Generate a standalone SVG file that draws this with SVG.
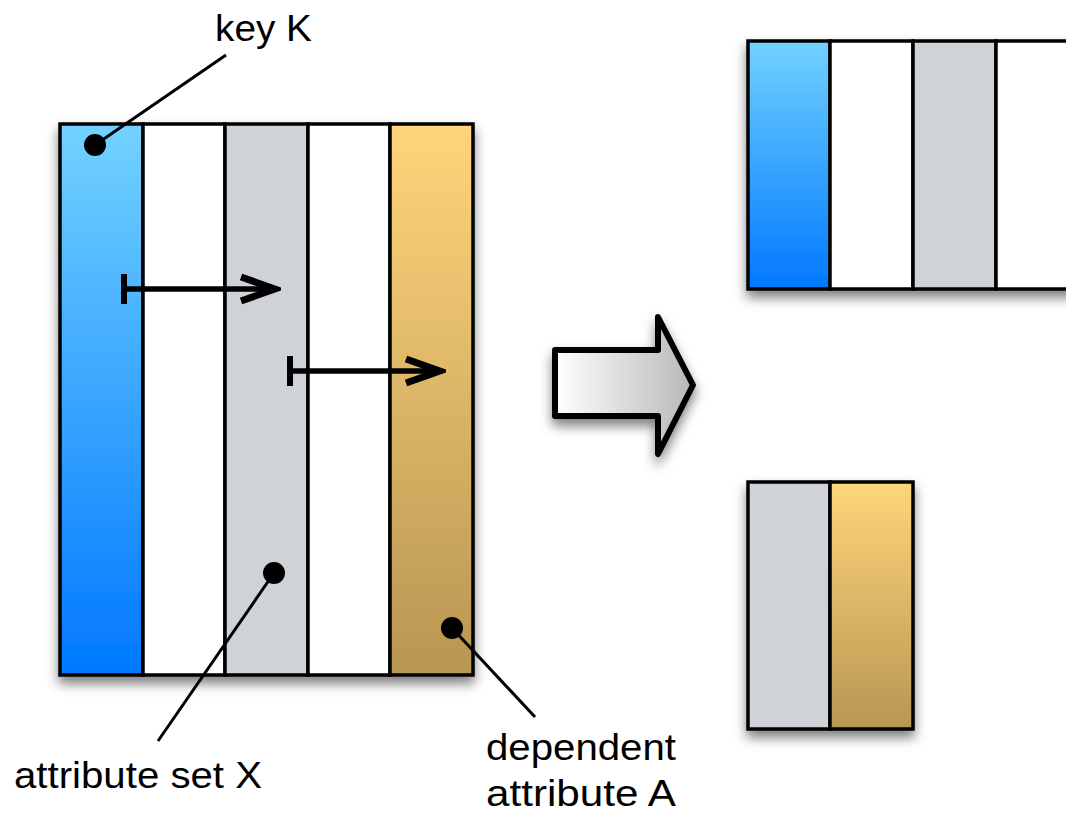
<svg xmlns="http://www.w3.org/2000/svg" width="1066" height="813" viewBox="0 0 1066 813">
<defs>
<linearGradient id="gBlue" x1="0" y1="0" x2="0" y2="1"><stop offset="0" stop-color="#72d2ff"/><stop offset="1" stop-color="#0078ff"/></linearGradient>
<linearGradient id="gGold" x1="0" y1="0" x2="0" y2="1"><stop offset="0" stop-color="#ffd57a"/><stop offset="1" stop-color="#b89653"/></linearGradient>
<linearGradient id="gArrow" x1="0" y1="0" x2="1" y2="0"><stop offset="0" stop-color="#ffffff"/><stop offset="1" stop-color="#b8b8b8"/></linearGradient>
<filter id="sh" x="-20%" y="-20%" width="140%" height="140%"><feDropShadow dx="0" dy="7" stdDeviation="6" flood-color="#000" flood-opacity="0.5"/></filter>
<marker id="ah" viewBox="0 0 44 32" refX="40" refY="16" markerWidth="44" markerHeight="32" markerUnits="userSpaceOnUse" orient="auto"><path d="M4,4 L38,16 L4,28" fill="none" stroke="#000" stroke-width="7"/></marker>
<marker id="tee" viewBox="0 0 8 32" refX="4" refY="16" markerWidth="8" markerHeight="32" markerUnits="userSpaceOnUse" orient="auto"><line x1="4" y1="1" x2="4" y2="31" stroke="#000" stroke-width="6"/></marker>
</defs>
<style>
.b{stroke:#000;stroke-width:3.5}
.t{font-family:"Liberation Sans",Arial,sans-serif;font-size:37px;fill:#000}
.lead{stroke:#000;stroke-width:3;fill:none}
.fd{stroke:#000;stroke-width:5.5;fill:none}
</style>
<g id="table-main" filter="url(#sh)">
<rect x="60" y="124" width="83" height="551" fill="url(#gBlue)" class="b"/>
<rect x="143" y="124" width="82" height="551" fill="#fff" class="b"/>
<rect x="225" y="124" width="83" height="551" fill="#cfd2d6" class="b"/>
<rect x="308" y="124" width="82" height="551" fill="#fff" class="b"/>
<rect x="390" y="124" width="83" height="551" fill="url(#gGold)" class="b"/>
</g>
<g id="table-top-right" filter="url(#sh)">
<rect x="748" y="41" width="82" height="248" fill="url(#gBlue)" class="b"/>
<rect x="830" y="41" width="83" height="248" fill="#fff" class="b"/>
<rect x="913" y="41" width="83" height="248" fill="#cfd2d6" class="b"/>
<rect x="996" y="41" width="83" height="248" fill="#fff" class="b"/>
</g>
<g id="table-bottom-right" filter="url(#sh)">
<rect x="748" y="482" width="82" height="247" fill="#cfd2d6" class="b"/>
<rect x="830" y="482" width="83" height="247" fill="url(#gGold)" class="b"/>
</g>
<g id="big-arrow" filter="url(#sh)">
<path d="M555,350 L658,350 L658,317 L693,385 L658,454 L658,416 L555,416 Z" fill="url(#gArrow)" stroke="#000" stroke-width="6" stroke-linejoin="round"/>
</g>
<g id="connectors">
<line x1="124" y1="289" x2="277" y2="289" class="fd" marker-start="url(#tee)" marker-end="url(#ah)"/>
<line x1="290" y1="371" x2="442" y2="371" class="fd" marker-start="url(#tee)" marker-end="url(#ah)"/>
<line x1="95" y1="145" x2="226" y2="55" class="lead"/>
<line x1="274" y1="573" x2="158" y2="741" class="lead"/>
<line x1="452" y1="628" x2="535" y2="717" class="lead"/>
<circle cx="95" cy="145" r="11"/>
<circle cx="274" cy="573" r="11"/>
<circle cx="452" cy="628" r="11"/>
</g>
<g id="labels">
<text class="t" x="215" y="41" textLength="97" lengthAdjust="spacingAndGlyphs">key K</text>
<text class="t" x="14" y="788" textLength="248" lengthAdjust="spacingAndGlyphs">attribute set X</text>
<text class="t" x="486" y="760" textLength="190" lengthAdjust="spacingAndGlyphs">dependent</text>
<text class="t" x="486" y="806" textLength="190" lengthAdjust="spacingAndGlyphs">attribute A</text>
</g>
</svg>
